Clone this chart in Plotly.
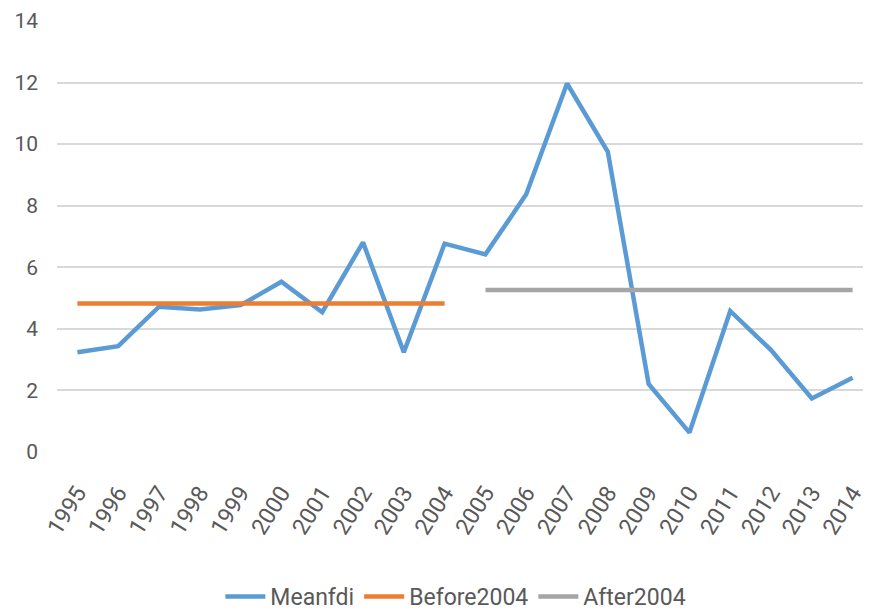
import plotly.graph_objects as go

years = [str(y) for y in range(1995, 2015)]
meanfdi = [3.24, 3.44, 4.72, 4.63, 4.77, 5.53, 4.54, 6.81, 3.24, 6.77,
           6.42, 8.37, 11.97, 9.75, 2.21, 0.63, 4.58, 3.31, 1.74, 2.41]
before2004 = [4.82] * 10 + [None] * 10
after2004 = [None] * 10 + [5.26] * 10

FONT = "Roboto, Liberation Sans, sans-serif"
x_idx = list(range(len(years)))

fig = go.Figure()
fig.add_trace(go.Scatter(x=x_idx, y=meanfdi, name="Meanfdi", mode="lines",
                         line=dict(color="#5B9BD5", width=4.5)))
fig.add_trace(go.Scatter(x=x_idx, y=before2004, name="Before2004", mode="lines",
                         line=dict(color="#ED7D31", width=4.5)))
fig.add_trace(go.Scatter(x=x_idx, y=after2004, name="After2004", mode="lines",
                         line=dict(color="#A5A5A5", width=4.5)))

# the page body adds an 8px margin at top/left, sizes account for that
fig.update_layout(
    width=863,
    height=610,
    paper_bgcolor="white",
    plot_bgcolor="white",
    margin=dict(l=49, r=0, t=13, b=166),
    font=dict(family=FONT, color="#595959", size=20),
    showlegend=True,
    legend=dict(orientation="h", x=0.49, xanchor="center", y=-0.336, yanchor="middle",
                font=dict(size=23), itemwidth=40, traceorder="normal"),
    xaxis=dict(
        tickmode="array", tickvals=x_idx, ticktext=years,
        range=[-0.5, 19.45], tickangle=-58,
        showgrid=False, zeroline=False, showline=False, ticks="",
        tickfont=dict(size=23), ticklabelstandoff=22, automargin=False,
        ticklabeloverflow="allow",
    ),
    yaxis=dict(
        range=[0, 14], dtick=2, showgrid=True, gridcolor="#D9D9D9", gridwidth=1.5,
        zeroline=False, showline=False, ticks="", tickfont=dict(size=21),
        ticklabelstandoff=18, automargin=False,
    ),
)

fig.write_html("out.html")
